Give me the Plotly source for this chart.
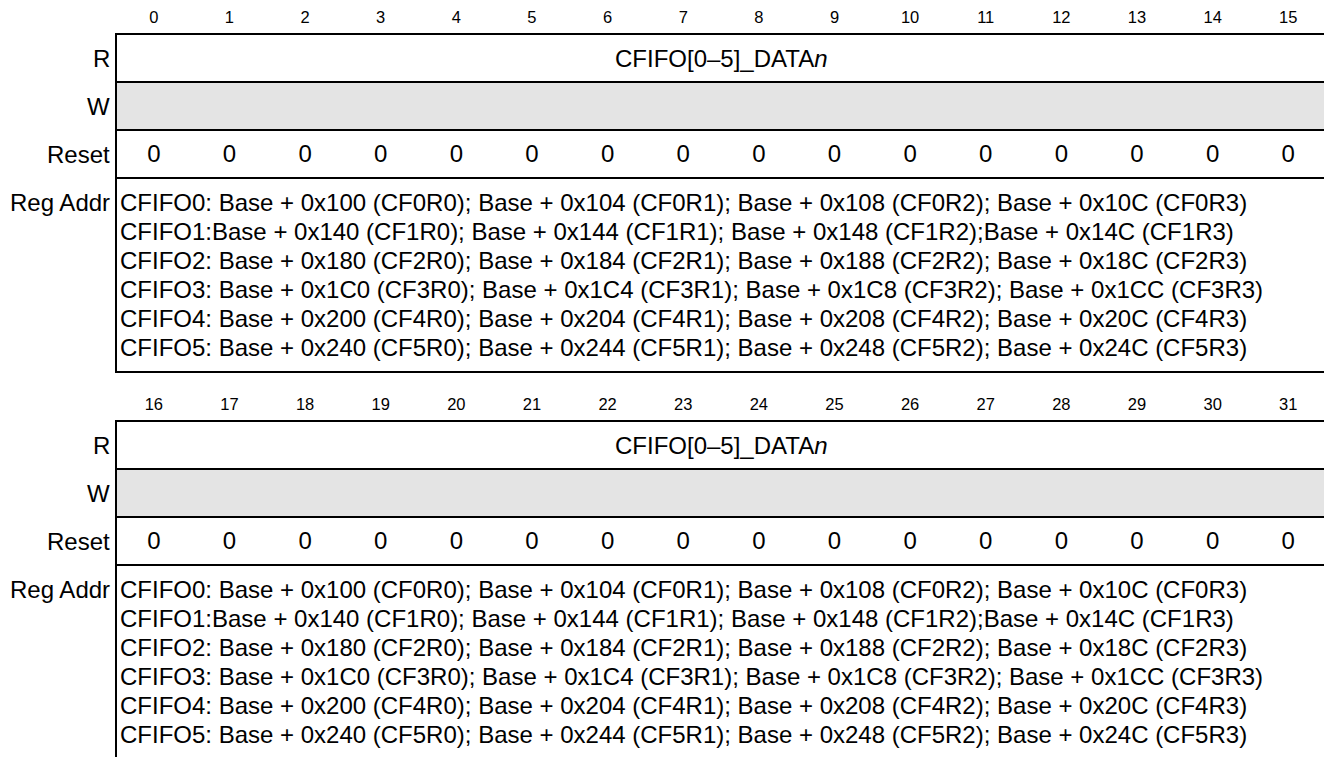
import plotly.graph_objects as go

# ---- data ----
bits_top = list(range(0, 16))
bits_bottom = list(range(16, 32))
row_labels = ["R", "W", "Reset", "Reg Addr"]
field_name = "CFIFO[0–5]_DATA<i>n</i>"
reset_top = [0] * 16
reset_bottom = [0] * 16
addr_lines = [
    "CFIFO0: Base + 0x100 (CF0R0); Base + 0x104 (CF0R1); Base + 0x108 (CF0R2); Base + 0x10C (CF0R3)",
    "CFIFO1:Base + 0x140 (CF1R0); Base + 0x144 (CF1R1); Base + 0x148 (CF1R2);Base + 0x14C (CF1R3)",
    "CFIFO2: Base + 0x180 (CF2R0); Base + 0x184 (CF2R1); Base + 0x188 (CF2R2); Base + 0x18C (CF2R3)",
    "CFIFO3: Base + 0x1C0 (CF3R0); Base + 0x1C4 (CF3R1); Base + 0x1C8 (CF3R2); Base + 0x1CC (CF3R3)",
    "CFIFO4: Base + 0x200 (CF4R0); Base + 0x204 (CF4R1); Base + 0x208 (CF4R2); Base + 0x20C (CF4R3)",
    "CFIFO5: Base + 0x240 (CF5R0); Base + 0x244 (CF5R1); Base + 0x248 (CF5R2); Base + 0x24C (CF5R3)",
]

# ---- geometry ----
W, H = 1324, 757
X0 = 116.0
COLW = 75.63
XR = 1324
ROWH = 48
ADDR_H = 194
LINE_SP = 29
FONT = "Liberation Sans, Arial, Helvetica, sans-serif"
BODY = 24
HDR = 16.5

fig = go.Figure()
shapes = []
annotations = []


def block(top, bits, resets):
    y_r, y_w, y_reset, y_addr = top, top + ROWH, top + 2 * ROWH, top + 3 * ROWH
    y_end = y_addr + ADDR_H
    # grey W row
    shapes.append(dict(type="rect", x0=X0, x1=XR, y0=y_w, y1=y_reset,
                       fillcolor="#e4e4e4", line=dict(width=0), layer="below"))
    for y in (y_r, y_w, y_reset, y_addr, y_end):
        shapes.append(dict(type="line", x0=X0 - 1, x1=XR, y0=y, y1=y,
                           line=dict(color="black", width=2)))
    shapes.append(dict(type="line", x0=X0, x1=X0, y0=y_r, y1=y_end,
                       line=dict(color="black", width=2)))
    xs = [X0 + (i + 0.5) * COLW for i in range(len(bits))]
    # bit numbers
    fig.add_trace(go.Scatter(x=xs, y=[top - 15] * len(bits), mode="text",
                             text=[str(b) for b in bits],
                             textfont=dict(family=FONT, size=HDR, color="black"),
                             hoverinfo="skip", showlegend=False))
    # reset values
    fig.add_trace(go.Scatter(x=xs, y=[y_reset + ROWH / 2 + 2] * len(resets), mode="text",
                             text=[str(v) for v in resets],
                             textfont=dict(family=FONT, size=BODY, color="black"),
                             hoverinfo="skip", showlegend=False))
    # row labels
    label_y = [y_r + ROWH / 2, y_w + ROWH / 2, y_reset + ROWH / 2, y_addr + 24]
    for lab, ly in zip(row_labels, label_y):
        annotations.append(dict(x=X0 - 4, y=ly, text=lab, showarrow=False,
                                xanchor="right", yanchor="middle",
                                font=dict(family=FONT, size=BODY, color="black")))
    # field name
    annotations.append(dict(x=X0 + COLW * len(bits) / 2, y=y_r + ROWH / 2, text=field_name,
                            showarrow=False, xanchor="center", yanchor="middle",
                            font=dict(family=FONT, size=BODY, color="black")))
    # address lines
    for k, line in enumerate(addr_lines):
        annotations.append(dict(x=X0 + 2, y=y_addr + 24 + k * LINE_SP, text=line,
                                showarrow=False, xanchor="left", yanchor="middle",
                                font=dict(family=FONT, size=BODY, color="black")))


block(34, bits_top, reset_top)
block(421, bits_bottom, reset_bottom)

fig.update_layout(
    width=W, height=H,
    margin=dict(l=0, r=0, t=0, b=0),
    paper_bgcolor="white", plot_bgcolor="white",
    xaxis=dict(range=[0, W], visible=False, fixedrange=True),
    yaxis=dict(range=[H, 0], visible=False, fixedrange=True),
    shapes=shapes, annotations=annotations,
)
fig.write_html("out.html", config={"displayModeBar": False},
               post_script="document.body.style.margin='0';document.body.style.overflow='hidden';")
